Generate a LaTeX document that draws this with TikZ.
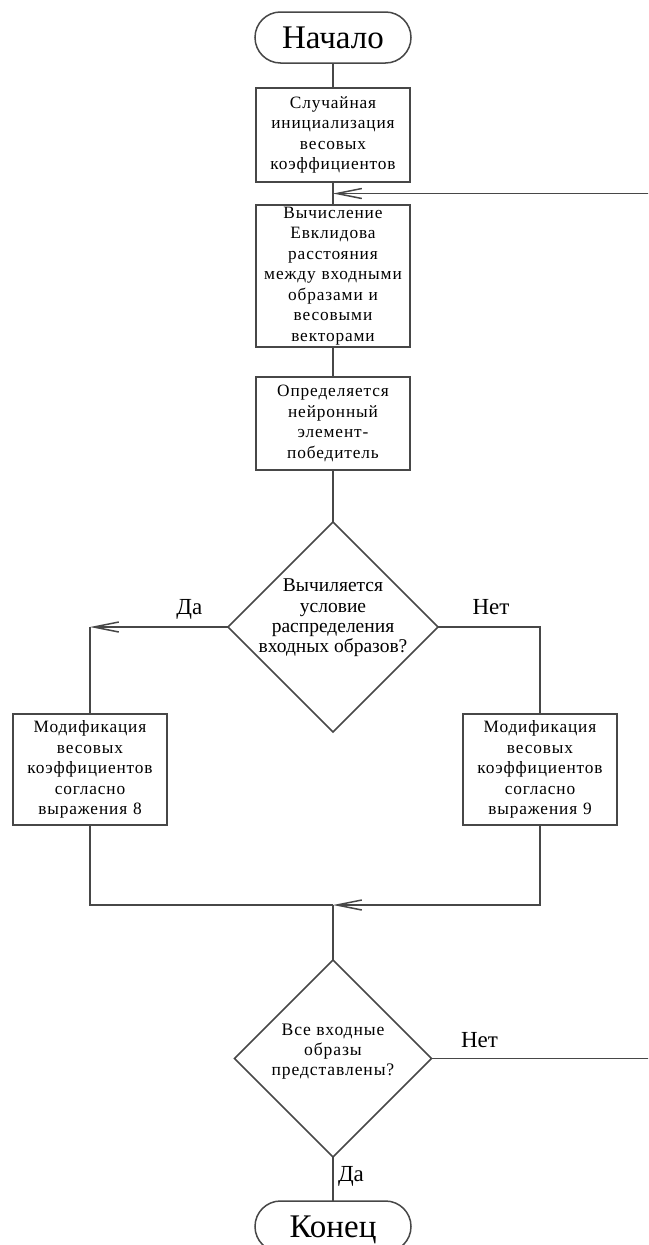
\documentclass[tikz,border=0pt]{standalone}
\usepackage{fontspec}
\setmainfont{Liberation Serif}
\newfontfamily\boxfont[LetterSpace=5]{Liberation Serif}
\usetikzlibrary{positioning,shapes.geometric,arrows.meta,calc}

\begin{document}
\begin{tikzpicture}[x=1pt, y=-1pt, line width=1.5pt, color=black!72,
  every node/.style={text=black, outer sep=0pt},
  term/.style={draw, rounded corners=25.5pt, minimum width=156pt, minimum height=51pt, inner sep=0pt, text depth=0pt, font=\fontsize{33}{36}\selectfont},
  proc/.style={draw, text width=150pt, minimum width=154pt, align=center, inner sep=0pt, font=\boxfont\fontsize{17.3}{20.5}\selectfont},
  cond/.style={draw, diamond, aspect=1, inner sep=0pt},
  condtext/.style={align=center, inner sep=0pt},
  lbl/.style={inner sep=0pt, font=\fontsize{23}{26}\selectfont},
  arr/.style={-{Straight Barb[length=25pt,width=10pt]}}]
\useasboundingbox (0,0) rectangle (648,1245);
\clip (0,0) rectangle (648,1245);
\node[term] (start) at (333,37.5) {Начало};
\node[proc, minimum height=94pt] (init) [below=25pt of start] {Случайная\\инициализация\\весовых\\коэффициентов};
\node[proc, minimum height=142pt] (dist) [below=23pt of init] {Вычисление\\Евклидова\\расстояния\\между входными\\образами и\\весовыми\\векторами};
\node[proc, minimum height=93pt] (winner) [below=30pt of dist] {Определяется\\нейронный\\элемент-\\победитель};
\node[cond, minimum width=210pt, minimum height=210pt] (test1) [below=52pt of winner] {};
\node[condtext, font=\fontsize{19.5}{20.3}\selectfont, yshift=9pt] (test1txt) at (test1.center) {Вычиляется\\условие\\распределения\\входных образов?};
\node[proc, minimum height=111pt] (modL) at (90,769.5) {Модификация\\весовых\\коэффициентов\\согласно\\выражения 8};
\node[proc, minimum height=111pt] (modR) at (540,769.5) {Модификация\\весовых\\коэффициентов\\согласно\\выражения 9};
\coordinate (yesc) at (test1.west -| modL.north);
\coordinate (noc) at (test1.east -| modR.north);
\coordinate (merge) at (333,905);
\node[cond, minimum width=197pt, minimum height=197pt] (test2) [below=55pt of merge] {};
\node[condtext, font=\boxfont\fontsize{17.6}{20}\selectfont, yshift=7pt] (test2txt) at (test2.center) {Все входные\\образы\\представлены?};
\node[term] (stop) [below=44pt of test2] {Конец};
\coordinate (loopa) at ($(test2.east)+(240,0)$);
\coordinate (join) at ($(init.south)!0.5!(dist.north)$);
\coordinate (loopb) at (join -| loopa);
\draw (start) -- (init);
\draw (init) -- (dist);
\draw (dist) -- (winner);
\draw (winner) -- (test1);
\draw[arr] (test1.west) -- node[lbl, anchor=base, pos=0.28, yshift=13pt] (yesA) {Да} (yesc);
\draw (yesc) -- (modL);
\draw (test1.east) -- node[lbl, anchor=base, pos=0.52, yshift=13pt] (noA) {Нет} (noc) -- (modR);
\draw (modL) |- (merge);
\draw[arr] (modR) |- (merge);
\draw (merge) -- (test2);
\draw (test2) -- node[lbl, anchor=base west, pos=0.55, xshift=5pt] (yesB) {Да} (stop);
\draw[arr] (test2.east) -- node[lbl, anchor=base, pos=0.2, yshift=11pt] (noB) {Нет} (loopa) -- (loopb) -- (join);
\end{tikzpicture}
\end{document}
